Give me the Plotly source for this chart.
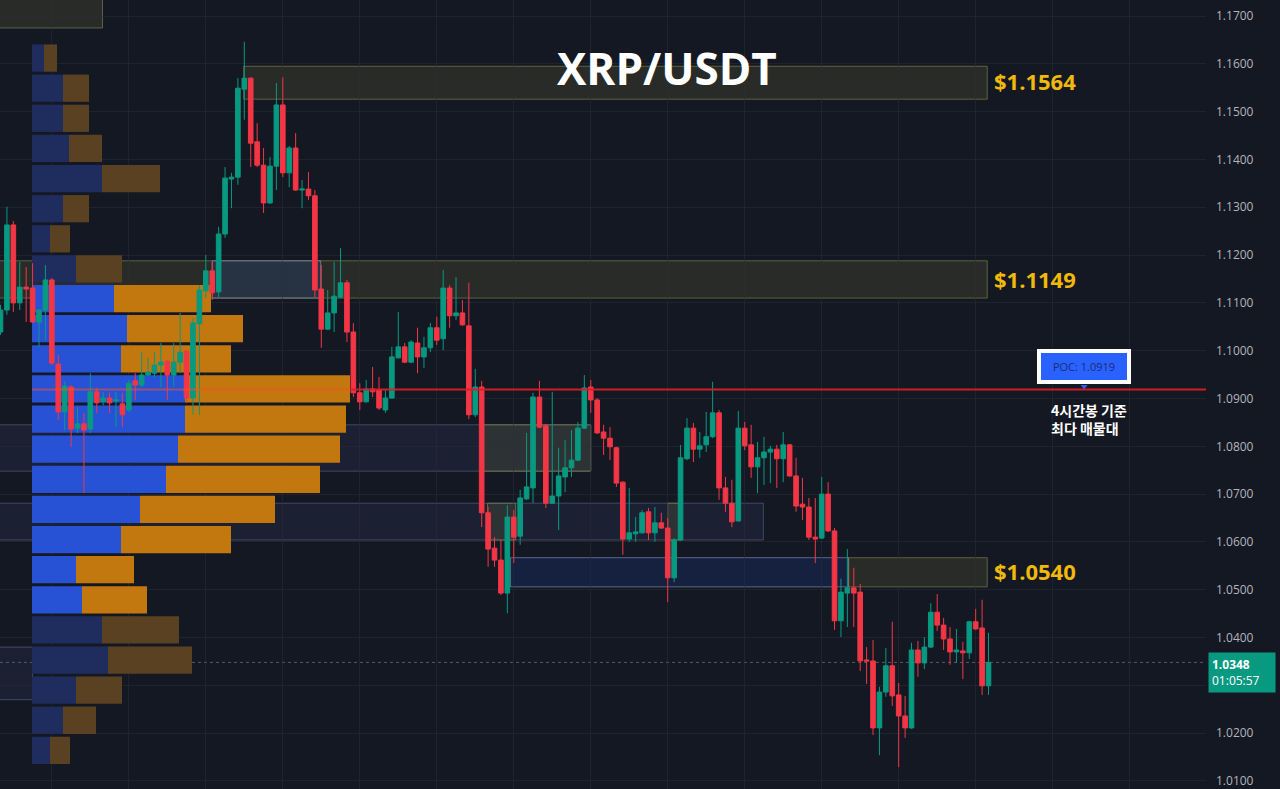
import plotly.graph_objects as go

# ---------------- data ----------------
opens = [1.1039,1.1085,1.1263,1.1100,1.1133,1.1131,1.1060,1.1085,1.1148,1.0972,
         1.0872,1.0924,1.0838,1.0847,1.0836,1.0914,1.0893,1.0901,1.0895,1.0889,
         1.0876,1.0937,1.0928,1.0949,1.0953,1.0970,1.0978,1.0949,1.0976,1.0999,
         1.0901,1.1056,1.1125,1.1167,1.1123,1.1244,1.1359,1.1363,1.1547,1.1570,
         1.1437,1.1388,1.1309,1.1386,1.1514,1.1372,1.1424,1.1336,1.1338,1.1324,
         1.1129,1.1045,1.1079,1.1112,1.1142,1.1039,1.0912,1.0893,1.0920,1.0918,
         1.0876,1.0901,1.0985,1.1008,1.0976,1.1016,1.0987,1.1006,1.1048,1.1025,
         1.1131,1.1073,1.1079,1.1052,1.0866,1.0924,1.0661,1.0587,1.0562,1.0493,
         1.0652,1.0612,1.0690,1.0713,1.0903,1.0843,1.0681,1.0696,1.0736,1.0755,
         1.0771,1.0838,1.0924,1.0897,1.0830,1.0817,1.0797,1.0725,1.0606,1.0617,
         1.0619,1.0663,1.0619,1.0640,1.0629,1.0525,1.0604,1.0774,1.0838,1.0794,
         1.0803,1.0820,1.0870,1.0713,1.0681,1.0644,1.0838,1.0803,1.0757,1.0776,
         1.0788,1.0794,1.0774,1.0803,1.0738,1.0679,1.0673,1.0610,1.0608,1.0700,
         1.0623,1.0435,1.0493,1.0504,1.0495,1.0353,1.0351,1.0211,1.0286,1.0341,
         1.0280,1.0236,1.0211,1.0374,1.0347,1.0380,1.0453,1.0426,1.0397,1.0370,
         1.0372,1.0368,1.0433,1.0420,1.0299]
highs = [1.1096,1.1301,1.1271,1.1186,1.1175,1.1183,1.1087,1.1179,1.1152,1.0991,
         1.0935,1.0928,1.0882,1.0870,1.0953,1.0922,1.0914,1.0912,1.0914,1.0912,
         1.0939,1.0953,1.0997,1.0985,1.0997,1.1016,1.0981,1.1016,1.1079,1.1001,
         1.1068,1.1137,1.1200,1.1186,1.1259,1.1384,1.1372,1.1570,1.1646,1.1572,
         1.1476,1.1424,1.1405,1.1560,1.1572,1.1428,1.1455,1.1357,1.1374,1.1336,
         1.1179,1.1127,1.1186,1.1215,1.1148,1.1058,1.0932,1.0939,1.0966,1.0945,
         1.0918,1.1008,1.1081,1.1016,1.1022,1.1048,1.1029,1.1058,1.1071,1.1169,
         1.1137,1.1154,1.1106,1.1142,1.0962,1.0937,1.0673,1.0610,1.0604,1.0677,
         1.0667,1.0709,1.0828,1.0912,1.0937,1.0847,1.0914,1.0797,1.0813,1.0834,
         1.0851,1.0949,1.0939,1.0901,1.0845,1.0840,1.0799,1.0727,1.0713,1.0652,
         1.0667,1.0671,1.0673,1.0661,1.0650,1.0608,1.0803,1.0859,1.0849,1.0830,
         1.0872,1.0935,1.0876,1.0736,1.0730,1.0874,1.0851,1.0845,1.0809,1.0820,
         1.0801,1.0803,1.0830,1.0805,1.0776,1.0734,1.0692,1.0692,1.0736,1.0725,
         1.0629,1.0523,1.0585,1.0546,1.0512,1.0380,1.0395,1.0297,1.0378,1.0433,
         1.0305,1.0278,1.0389,1.0393,1.0401,1.0472,1.0491,1.0441,1.0422,1.0418,
         1.0391,1.0435,1.0460,1.0479,1.0410]
lows = [1.1033,1.1075,1.1081,1.1085,1.1060,1.1058,1.1008,1.1022,1.0970,1.0855,
        1.0834,1.0799,1.0828,1.0702,1.0828,1.0870,1.0886,1.0870,1.0840,1.0840,
        1.0872,1.0897,1.0924,1.0947,1.0945,1.0924,1.0897,1.0924,1.0953,1.0891,
        1.0866,1.0866,1.1110,1.1106,1.1112,1.1236,1.1298,1.1347,1.1483,1.1384,
        1.1384,1.1288,1.1307,1.1336,1.1363,1.1342,1.1334,1.1298,1.1315,1.1112,
        1.1006,1.1043,1.1039,1.1110,1.1018,1.0903,1.0876,1.0891,1.0903,1.0876,
        1.0870,1.0899,1.0983,1.0974,1.0974,1.0953,1.0964,1.0997,1.1012,1.1001,
        1.1048,1.1064,1.1052,1.0857,1.0861,1.0631,1.0548,1.0548,1.0489,1.0451,
        1.0556,1.0594,1.0688,1.0681,1.0838,1.0671,1.0679,1.0625,1.0704,1.0736,
        1.0769,1.0836,1.0870,1.0826,1.0782,1.0771,1.0715,1.0573,1.0600,1.0600,
        1.0617,1.0604,1.0600,1.0627,1.0474,1.0516,1.0602,1.0771,1.0767,1.0776,
        1.0788,1.0817,1.0688,1.0663,1.0631,1.0642,1.0792,1.0734,1.0702,1.0719,
        1.0723,1.0713,1.0725,1.0736,1.0663,1.0646,1.0604,1.0556,1.0606,1.0621,
        1.0416,1.0401,1.0422,1.0422,1.0330,1.0303,1.0196,1.0154,1.0276,1.0257,
        1.0129,1.0190,1.0209,1.0318,1.0334,1.0378,1.0414,1.0374,1.0343,1.0347,
        1.0313,1.0355,1.0416,1.0280,1.0280]
closes = [1.1085,1.1263,1.1100,1.1133,1.1129,1.1060,1.1085,1.1148,1.0974,1.0872,
          1.0926,1.0836,1.0847,1.0834,1.0914,1.0891,1.0901,1.0891,1.0897,1.0866,
          1.0932,1.0928,1.0949,1.0955,1.0970,1.0976,1.0949,1.0976,1.0997,1.0901,
          1.1058,1.1127,1.1167,1.1121,1.1244,1.1361,1.1363,1.1549,1.1570,1.1434,
          1.1388,1.1309,1.1386,1.1514,1.1372,1.1424,1.1336,1.1338,1.1324,1.1127,
          1.1045,1.1079,1.1114,1.1142,1.1039,1.0912,1.0893,1.0920,1.0914,1.0880,
          1.0901,1.0987,1.1008,1.0976,1.1018,1.0987,1.1006,1.1048,1.1022,1.1131,
          1.1073,1.1079,1.1054,1.0866,1.0924,1.0661,1.0585,1.0562,1.0493,1.0652,
          1.0610,1.0692,1.0715,1.0903,1.0840,1.0681,1.0696,1.0738,1.0755,1.0771,
          1.0838,1.0922,1.0897,1.0828,1.0817,1.0799,1.0723,1.0606,1.0619,1.0621,
          1.0661,1.0619,1.0640,1.0629,1.0525,1.0604,1.0776,1.0838,1.0794,1.0801,
          1.0820,1.0870,1.0713,1.0681,1.0642,1.0838,1.0801,1.0757,1.0776,1.0788,
          1.0794,1.0774,1.0803,1.0738,1.0675,1.0673,1.0610,1.0606,1.0700,1.0623,
          1.0435,1.0495,1.0504,1.0493,1.0351,1.0351,1.0211,1.0286,1.0341,1.0278,
          1.0236,1.0211,1.0374,1.0347,1.0380,1.0453,1.0426,1.0397,1.0370,1.0374,
          1.0368,1.0433,1.0418,1.0299,1.0348]
candle_idx = list(range(len(opens)))

# visible-range volume profile (price rows, up / down volume)
vp_price = [1.1612,1.1549,1.1486,1.1423,1.1360,1.1297,1.1234,1.1171,1.1109,1.1046,
            1.0983,1.0920,1.0857,1.0794,1.0731,1.0668,1.0605,1.0542,1.0479,1.0416,
            1.0353,1.0290,1.0227,1.0164]
vp_up = [12,31,31,37,70,31,18,44,82,95,89,153,153,146,134,108,89,44,50,70,76,44,31,18]
vp_down = [13,26,26,33,58,26,20,46,97,116,110,165,161,162,154,135,110,58,65,77,84,46,33,20]
vp_value_area = [False]*8 + [True]*11 + [False]*5

poc_price = 1.0919
poc_line_start = 54.5          # candle index where the drawn POC line begins
level_prices = [1.1564, 1.1149, 1.0540]
level_labels = ["$1.1564", "$1.1149", "$1.0540"]
last_price = 1.0348
countdown = "01:05:57"
price_ticks = [1.01,1.02,1.03,1.04,1.05,1.06,1.07,1.08,1.09,1.10,1.11,1.12,1.13,1.14,1.15,1.16,1.17]
price_tick_text = ["1.0100","1.0200","","1.0400","1.0500","1.0600","1.0700","1.0800","1.0900",
                   "1.1000","1.1100","1.1200","1.1300","1.1400","1.1500","1.1600","1.1700"]

# supply / demand zones: (x0 idx, x1 idx, low, high, kind)
zones = [
    (-0.2, 15.9, 1.1675, 1.1760, "olive"),
    (37.9, 153.8, 1.1526, 1.1595, "olive"),
    (-0.2, 153.8, 1.1110, 1.1188, "olive"),
    (33.0, 49.9, 1.1110, 1.1188, "blue"),
    (-0.2, 92.0, 1.0748, 1.0845, "grey"),
    (75.3, 92.0, 1.0748, 1.0845, "olive"),
    (-0.2, 118.9, 1.0604, 1.0681, "grey"),
    (75.9, 80.3, 1.0604, 1.0681, "olive"),
    (104.0, 106.0, 1.0604, 1.0681, "olive"),
    (79.5, 132.2, 1.0506, 1.0567, "blue"),
    (132.2, 153.8, 1.0506, 1.0567, "olive"),
    (-0.2, 5.0, 1.0270, 1.0380, "grey"),
]

# ---------------- style ----------------
BG = "#141823"
GRID = "rgba(42,46,57,0.55)"
UP = "#089981"
DOWN = "#f23645"
zone_style = {
    "olive": dict(fill="rgba(120,122,60,0.20)", line="rgba(150,150,80,0.55)"),
    "grey": dict(fill="rgba(70,95,140,0.14)", line="rgba(110,128,165,0.45)"),
    "blue": dict(fill="rgba(41,98,255,0.13)", line="rgba(150,165,210,0.55)"),
}

up_colors = ["#2852d6" if v else "#1e2c5e" for v in vp_value_area]
dn_colors = ["#c3770f" if v else "#5a4121" for v in vp_value_area]

fig = go.Figure()

# volume profile on base axes
fig.add_trace(go.Bar(y=vp_price, x=vp_up, base=[0]*len(vp_up), orientation="h",
                     width=0.0057, marker=dict(color=up_colors, line=dict(width=0)),
                     xaxis="x", yaxis="y", hoverinfo="skip", showlegend=False))
fig.add_trace(go.Bar(y=vp_price, x=vp_down, base=vp_up, orientation="h",
                     width=0.0057, marker=dict(color=dn_colors, line=dict(width=0)),
                     xaxis="x", yaxis="y", hoverinfo="skip", showlegend=False))

# candles on overlay axis
fig.add_trace(go.Candlestick(
    x=candle_idx, open=opens, high=highs, low=lows, close=closes,
    increasing=dict(line=dict(color=UP, width=1), fillcolor=UP),
    decreasing=dict(line=dict(color=DOWN, width=1), fillcolor=DOWN),
    whiskerwidth=0, xaxis="x2", yaxis="y", showlegend=False, hoverinfo="skip"))

# POC marker triangle
fig.add_trace(go.Scatter(x=[168.9], y=[poc_price + 0.0006], mode="markers",
                         marker=dict(symbol="triangle-down", size=6, color="#2962ff"),
                         xaxis="x2", yaxis="y", showlegend=False, hoverinfo="skip"))

shapes = []
for x0, x1, lo, hi, kind in zones:
    st = zone_style[kind]
    shapes.append(dict(type="rect", xref="x2", yref="y", x0=x0, x1=x1, y0=lo, y1=hi,
                       fillcolor=st["fill"], line=dict(color=st["line"], width=1),
                       layer="below"))
# last price dotted line
shapes.append(dict(type="line", xref="paper", yref="y", x0=0, x1=1, y0=last_price, y1=last_price,
                   line=dict(color="rgba(140,145,160,0.55)", width=1, dash="dot"), layer="below"))
# profile POC line (across the volume profile)
poc_row = max(range(len(vp_up)), key=lambda i: vp_up[i] + vp_down[i])
shapes.append(dict(type="line", xref="x", yref="y", x0=0, x1=vp_up[poc_row] + vp_down[poc_row],
                   y0=poc_price, y1=poc_price,
                   line=dict(color="rgba(245,80,40,0.55)", width=2), layer="above"))
# drawn POC line
shapes.append(dict(type="line", xref="x2", yref="y", x0=poc_line_start, x1=187.9,
                   y0=poc_price, y1=poc_price,
                   line=dict(color="rgba(215,30,40,0.95)", width=2), layer="above"))

annotations = []
annotations.append(dict(text="<b>XRP/USDT</b>", xref="paper", yref="y", x=0.553, y=1.1592,
                        xanchor="center", yanchor="middle", showarrow=False,
                        font=dict(family="Open Sans", size=44, color="#ffffff")))
for p, lab in zip(level_prices, level_labels):
    annotations.append(dict(text="<b>%s</b>" % lab, xref="x2", yref="y", x=153.8, y=p,
                            xanchor="left", yanchor="middle", xshift=5, showarrow=False,
                            font=dict(family="Open Sans", size=22, color="#f0b90b")))
annotations.append(dict(text="POC: %.4f" % poc_price, xref="x2", yref="y", x=168.9, y=poc_price,
                        xanchor="center", yanchor="bottom", yshift=5, showarrow=False,
                        width=84, height=25, bgcolor="#2962ff", bordercolor="#ffffff",
                        borderwidth=4, borderpad=1,
                        font=dict(family="Open Sans", size=11, color="#1c2c7a")))
annotations.append(dict(text="<b>4시간봉 기준<br>최다 매물대</b>", xref="x2", yref="y", x=169.6,
                        y=poc_price, xanchor="center", yanchor="top", yshift=-9,
                        showarrow=False, align="left",
                        font=dict(family="Noto Sans CJK KR", size=14, color="#ffffff")))
annotations.append(dict(text="<b>%.4f</b><br>%s" % (last_price, countdown), xref="paper", yref="y",
                        x=1.0015, y=last_price, xanchor="left", yanchor="top", yshift=10,
                        showarrow=False, align="left", bgcolor=UP, borderpad=3, width=60,
                        font=dict(family="Open Sans", size=12, color="#ffffff")))

fig.update_layout(
    width=1280, height=789, autosize=False,
    margin=dict(l=0, r=74, t=0, b=0),
    paper_bgcolor=BG, plot_bgcolor=BG,
    barmode="overlay", boxgap=0.1, boxgroupgap=0.2,
    showlegend=False, shapes=shapes, annotations=annotations,
    xaxis=dict(range=[-32, 1174], visible=False, fixedrange=True),
    xaxis2=dict(overlaying="x", anchor="y", range=[-0.08, 187.9],
                tickvals=[8, 20, 32, 44, 56, 68, 80, 92, 104, 116, 128, 140, 152, 164, 176],
                showticklabels=False, showgrid=True, gridcolor=GRID, gridwidth=1,
                zeroline=False, showline=False, ticks="", rangeslider=dict(visible=False)),
    yaxis=dict(side="right", range=[1.00832, 1.17335], tickvals=price_ticks,
               ticktext=price_tick_text, showgrid=True, gridcolor=GRID, zeroline=False,
               showline=False, ticks="", ticklabelstandoff=9, ticklabeloverflow="allow",
               tickfont=dict(family="Open Sans", size=12, color="#b2b5be")),
)

fig.write_html("out.html", config={"displayModeBar": False},
               post_script="document.body.style.margin='0';document.body.style.background='#141823';")
